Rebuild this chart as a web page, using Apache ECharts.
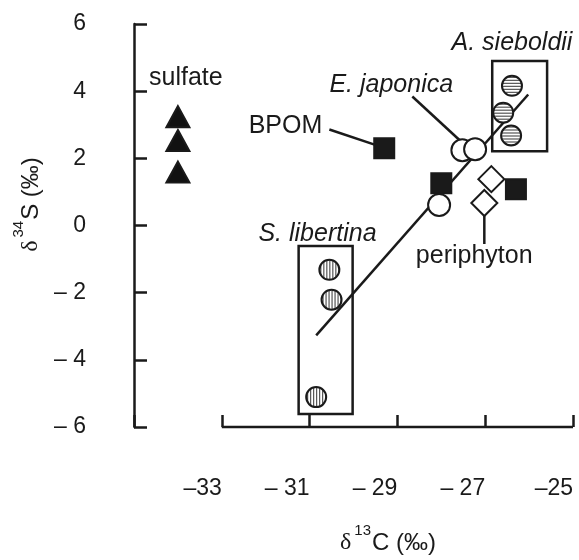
<!DOCTYPE html>
<html>
<head>
<meta charset="utf-8">
<script src="https://cdn.jsdelivr.net/npm/echarts@6/dist/echarts.min.js"></script>
<style>
  html, body { margin: 0; padding: 0; background: #fff; }
  #chart { width: 579px; height: 560px; }
</style>
</head>
<body>
<div id="chart"></div>
<script>
// values (delta 13C, delta 34S)
const sulfate = [[-34.0, 3.24], [-34.0, 2.53], [-34.0, 1.59]];
const bpom = [[-29.3, 2.30], [-28.0, 1.26], [-26.3, 1.08]];
const eJaponica = [[-27.52, 2.24], [-27.23, 2.27], [-28.05, 0.61]];
const aSieboldii = [[-26.39, 4.16], [-26.59, 3.36], [-26.41, 2.68]];
const periphyton = [[-26.86, 1.38], [-27.02, 0.67]];
const sLibertina = [[-30.55, -1.32], [-30.5, -2.21], [-30.85, -5.11]];
const regression = [[-30.85, -3.27], [-26.02, 3.90]];

// boxes around the two species groups: [x1, y1, x2, y2]
const boxes = [[-26.84, 4.90, -25.59, 2.21], [-31.25, -0.61, -30.02, -5.61]];

// leader lines from labels to points
const leaders = [
  [[-30.55, 2.86], [-29.52, 2.41]],
  [[-28.66, 3.84], [-27.55, 2.50]],
  [[-27.02, 0.58], [-27.02, -0.55]]
];

// text labels placed in data units
const plainLabels = [['sulfate', -33.82, 4.40], ['BPOM', -31.55, 2.95], ['periphyton', -27.25, -0.90]];
const italicLabels = [['E. japonica', -29.14, 4.19], ['A. sieboldii', -26.39, 5.44], ['S. libertina', -30.82, -0.25]];

const xTicks = { '-33': '–33', '-31': '– 31', '-29': '– 29', '-27': '– 27', '-25': '–25' };
const yTicks = { '-6': '– 6', '-4': '– 4', '-2': '– 2', '0': '0', '2': '2', '4': '4', '6': '6' };

const ink = '#1a1a1a';
const font = 'Liberation Sans, Arial, sans-serif';
const lw = 2.5;

// striped fill; symbols are drawn as a 2x2 path scaled up, so the pattern is scaled back down
function stripes(horizontal, size) {
  const c = document.createElement('canvas');
  c.width = horizontal ? 1 : 3;
  c.height = horizontal ? 3 : 1;
  const g = c.getContext('2d');
  g.fillStyle = '#fff';
  g.fillRect(0, 0, c.width, c.height);
  g.fillStyle = '#333';
  g.fillRect(0, 0, 1, 1);
  const k = 2 / size;
  return { image: c, repeat: 'repeat', scaleX: k, scaleY: k };
}

const chart = echarts.init(document.getElementById('chart'));

function scatter(data, symbol, size, fill) {
  return {
    type: 'scatter',
    data: data,
    symbol: symbol,
    symbolSize: size,
    itemStyle: { color: fill, borderColor: ink, borderWidth: 2, opacity: 1 },
    emphasis: { disabled: true },
    z: 5
  };
}

function textSeries(list, italic) {
  return {
    type: 'scatter',
    data: list.map(l => ({ value: [l[1], l[2]], name: l[0] })),
    symbolSize: 0,
    silent: true,
    itemStyle: { opacity: 1 },
    label: {
      show: true,
      position: 'inside',
      formatter: p => p.name,
      color: ink,
      opacity: 1,
      fontSize: 25,
      fontFamily: font,
      fontStyle: italic ? 'italic' : 'normal'
    },
    z: 6
  };
}

const series = [];

// axis line of x only runs from -33 to -25
series.push({
  type: 'line',
  data: [[-33, -6], [-25, -6]],
  symbol: 'none',
  clip: false,
  lineStyle: { color: ink, width: lw },
  silent: true
});

series.push({
  type: 'line',
  data: regression,
  symbol: 'none',
  lineStyle: { color: ink, width: lw },
  silent: true,
  markArea: {
    silent: true,
    itemStyle: { color: 'rgba(0,0,0,0)', borderColor: ink, borderWidth: lw },
    data: boxes.map(b => [{ coord: [b[0], b[1]] }, { coord: [b[2], b[3]] }])
  }
});

leaders.forEach(l => series.push({
  type: 'line',
  data: l,
  symbol: 'none',
  lineStyle: { color: ink, width: lw },
  silent: true
}));

series.push(scatter(sulfate, 'triangle', [23, 21], '#111'));
series.push(scatter(bpom, 'rect', 20, '#1a1a1a'));
series.push(scatter(eJaponica, 'circle', 22, '#fff'));
series.push(scatter(periphyton, 'diamond', 26, '#fff'));
series.push(scatter(aSieboldii, 'circle', 20, stripes(true, 20)));
series.push(scatter(sLibertina, 'circle', 20, stripes(false, 20)));
series.push(textSeries(plainLabels, false));
series.push(textSeries(italicLabels, true));

const titleRich = {
  d: { fontSize: 24, fontFamily: 'Liberation Serif, serif', color: ink, verticalAlign: 'bottom', lineHeight: 32 },
  s: { fontSize: 15, fontFamily: font, color: ink, verticalAlign: 'top', lineHeight: 32, padding: [0, 1, 0, 3] },
  m: { fontSize: 24, fontFamily: font, color: ink, verticalAlign: 'bottom', lineHeight: 32 }
};

const option = {
  animation: false,
  backgroundColor: '#fff',
  grid: { left: 134, right: 6, top: 24, bottom: 131 },
  xAxis: {
    type: 'value',
    min: -35,
    max: -25,
    interval: 2,
    splitLine: { show: false },
    axisLine: { show: false, onZero: false },
    axisTick: { show: true, inside: true, length: 12, lineStyle: { color: ink, width: lw } },
    axisLabel: {
      margin: 50,
      align: 'right',
      color: ink,
      fontSize: 23,
      fontFamily: font,
      formatter: v => xTicks[String(v)] || ''
    },
    name: '{d|δ}{s|13}{m|C (‰)}',
    nameLocation: 'middle',
    nameGap: 96,
    nameTextStyle: { color: ink, padding: [0, 0, 0, 69], rich: titleRich }
  },
  yAxis: {
    type: 'value',
    min: -6,
    max: 6,
    interval: 2,
    splitLine: { show: false },
    axisLine: { show: true, onZero: false, lineStyle: { color: ink, width: lw } },
    axisTick: { show: true, inside: true, length: 13, lineStyle: { color: ink, width: lw } },
    axisLabel: {
      margin: 48,
      color: ink,
      fontSize: 23,
      fontFamily: font,
      formatter: v => yTicks[String(v)]
    },
    name: '{d|δ}{s|34}{m|S (‰)}',
    nameLocation: 'middle',
    nameRotate: 90,
    nameGap: 82,
    nameTextStyle: { color: ink, padding: [0, 0, 0, 42], rich: titleRich }
  },
  series: series
};

chart.setOption(option);
</script>
</body>
</html>
